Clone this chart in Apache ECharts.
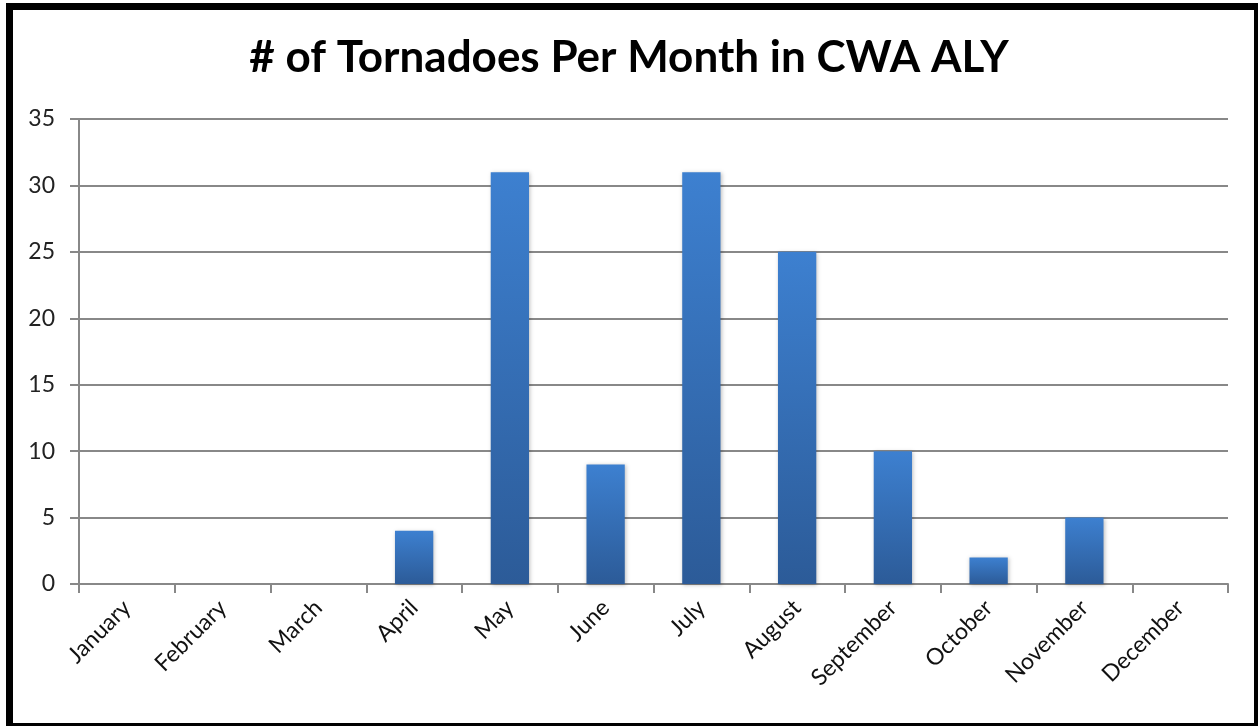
<!DOCTYPE html>
<html lang="en">
<head>
<meta charset="UTF-8">
<script src="https://cdn.jsdelivr.net/npm/echarts/dist/echarts.min.js"></script>
<title># of Tornadoes Per Month in CWA ALY</title>
<style>
    html, body {
        margin: 0;
        padding: 0;
        background: white;
    }
    .frame {
        position: absolute;
        left: 6px;
        top: 3px;
        width: 1241px;
        height: 713px;
        border-left: 7px solid black;
        border-top: 7px solid black;
        border-right: 4px solid black;
        border-bottom: 3px solid black;
    }
    #chart {
        position: absolute;
        left: 0;
        top: 0;
        width: 1258px;
        height: 726px;
    }
</style>
</head>
<body>
<div class="frame"></div>
<div id="chart"></div>

<script>
const months = ['January', 'February', 'March', 'April', 'May', 'June',
    'July', 'August', 'September', 'October', 'November', 'December'];
const tornadoes = [0, 0, 0, 4, 31, 9, 31, 25, 10, 2, 5, 0];

const chart = echarts.init(document.getElementById('chart'));

// assi e griglia grigi come nel grafico originale
const options = {
    animation: false,
    title: {
        text: '# of Tornadoes Per Month in CWA ALY',
        left: 'center',
        top: 31,
        textStyle: {
            fontFamily: 'Lato',
            fontWeight: 'bold',
            fontSize: 44,
            color: '#000'
        }
    },
    grid: {
        left: 79,
        right: 30,
        top: 119,
        bottom: 142
    },
    xAxis: {
        type: 'category',
        data: months,
        axisLine: { lineStyle: { color: '#888', width: 2 } },
        axisTick: { show: true, length: 9, lineStyle: { color: '#888', width: 2 } },
        axisLabel: {
            rotate: 45,
            margin: 20,
            fontFamily: 'Lato',
            fontSize: 23,
            color: '#111'
        }
    },
    yAxis: {
        type: 'value',
        min: 0,
        max: 35,
        interval: 5,
        axisLine: { show: true, lineStyle: { color: '#888', width: 2 } },
        axisTick: { show: true, length: 9, lineStyle: { color: '#888', width: 2 } },
        axisLabel: {
            margin: 24,
            fontFamily: 'Lato',
            fontSize: 23,
            color: '#222'
        },
        splitLine: { lineStyle: { color: '#888', width: 2 } }
    },
    series: [
        {
            name: 'Tornadoes',
            type: 'bar',
            data: tornadoes,
            barWidth: '40%',
            itemStyle: {
                color: new echarts.graphic.LinearGradient(0, 0, 0, 1, [
                    { offset: 0, color: '#3d80d0' },
                    { offset: 1, color: '#2c5b98' }
                ]),
                shadowColor: 'rgba(0,0,0,0.25)',
                shadowBlur: 4,
                shadowOffsetX: 1,
                shadowOffsetY: 1
            }
        }
    ]
};

chart.setOption(options);
</script>
</body>
</html>
